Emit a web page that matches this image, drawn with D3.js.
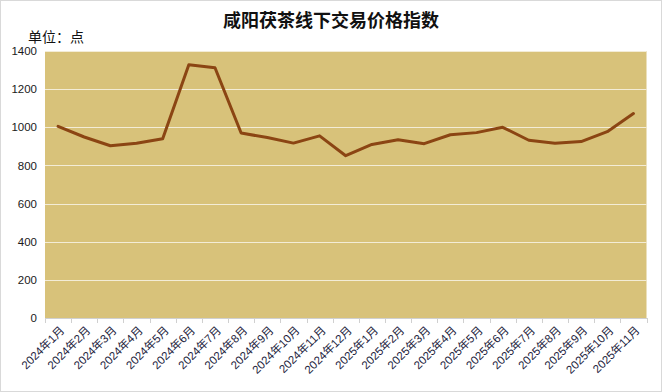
<!DOCTYPE html>
<html><head><meta charset="utf-8">
<script src="https://cdn.jsdelivr.net/npm/d3@7"></script>
<style>
html,body{margin:0;padding:0;background:#fff;}
svg{display:block;font-family:"Liberation Sans","Noto Sans CJK SC",sans-serif;}
</style></head><body>
<svg id="c" width="662" height="392"></svg>
<script>
const categories = ["2024年1月","2024年2月","2024年3月","2024年4月","2024年5月","2024年6月","2024年7月","2024年8月","2024年9月","2024年10月","2024年11月","2024年12月","2025年1月","2025年2月","2025年3月","2025年4月","2025年5月","2025年6月","2025年7月","2025年8月","2025年9月","2025年10月","2025年11月"];
const values = [1005,949,903,916,940,1328,1312,970,946,917,955,851,910,935,914,961,972,1000,932,916,925,977,1072];
const yTicks = [0,200,400,600,800,1000,1200,1400];
const title = "咸阳茯茶线下交易价格指数";
const unitLabel = "单位：点";

const svg = d3.select("#c");
const W = 662, H = 392;
const m = {left:45, right:15.5, top:51, bottom:74};

svg.append("rect").attr("x",0.5).attr("y",0.5).attr("width",W-1).attr("height",H-1)
  .attr("fill","#fff").attr("stroke","#d9d9d9");

const x = d3.scaleBand().domain(categories).range([m.left, W-m.right]);
const y = d3.scaleLinear().domain([0,1400]).range([H-m.bottom, m.top]);

svg.append("rect").attr("x",m.left).attr("y",y(1400)).attr("width",W-m.right-m.left)
  .attr("height",y(0)-y(1400)).attr("fill","#D8C27A");

// gridlines
svg.append("g").selectAll("line").data(yTicks.filter(d=>d>0)).join("line")
  .attr("x1",m.left).attr("x2",W-m.right)
  .attr("y1",d=>Math.round(y(d))+0.5).attr("y2",d=>Math.round(y(d))+0.5)
  .attr("stroke","#f3ecd6").attr("stroke-width",1);

// y axis labels
const yAxis = d3.axisLeft(y).tickValues(yTicks).tickFormat(d3.format("d")).tickSize(0).tickPadding(8);
const gy = svg.append("g").attr("transform",`translate(${m.left},0)`).call(yAxis);
gy.select(".domain").remove();
gy.selectAll("text").attr("font-size",11.5).attr("fill","#1a1a1a").attr("font-family","Liberation Sans, sans-serif");

// x axis
const xAxis = d3.axisBottom(x).tickSize(0).tickFormat(d=>d);
const gx = svg.append("g").attr("transform",`translate(0,${y(0)})`).call(xAxis);
gx.select(".domain").attr("stroke","#d0d0d0");
gx.selectAll("text").attr("font-size",11.5).attr("fill","#1c1c3c")
  .attr("font-family","Liberation Sans, Noto Sans CJK SC, sans-serif")
  .attr("text-anchor","end").attr("dy",0).attr("y",0)
  .attr("transform","translate(7,13) rotate(-45)");
// tick marks at band boundaries
const bounds = categories.map(c=>x(c)).concat([x(categories[categories.length-1])+x.bandwidth()]);
svg.append("g").selectAll("line").data(bounds).join("line")
  .attr("x1",d=>Math.round(d)+0.5).attr("x2",d=>Math.round(d)+0.5)
  .attr("y1",y(0)).attr("y2",y(0)+5).attr("stroke","#d0d0d0");

// line
const line = d3.line().x((d,i)=>x(categories[i])+x.bandwidth()/2).y(d=>y(d));
svg.append("path").datum(values).attr("d",line).attr("fill","none")
  .attr("stroke","#8B4513").attr("stroke-width",3).attr("stroke-linejoin","round").attr("stroke-linecap","round");

svg.append("text").attr("x",331).attr("y",27).attr("text-anchor","middle")
  .attr("font-family","Noto Sans CJK SC, sans-serif").attr("font-weight","bold")
  .attr("font-size",18).attr("fill","#111").text(title);
svg.append("text").attr("x",28).attr("y",42)
  .attr("font-family","Noto Sans CJK SC, sans-serif")
  .attr("font-size",14).attr("fill","#111").text(unitLabel);
</script></body></html>
